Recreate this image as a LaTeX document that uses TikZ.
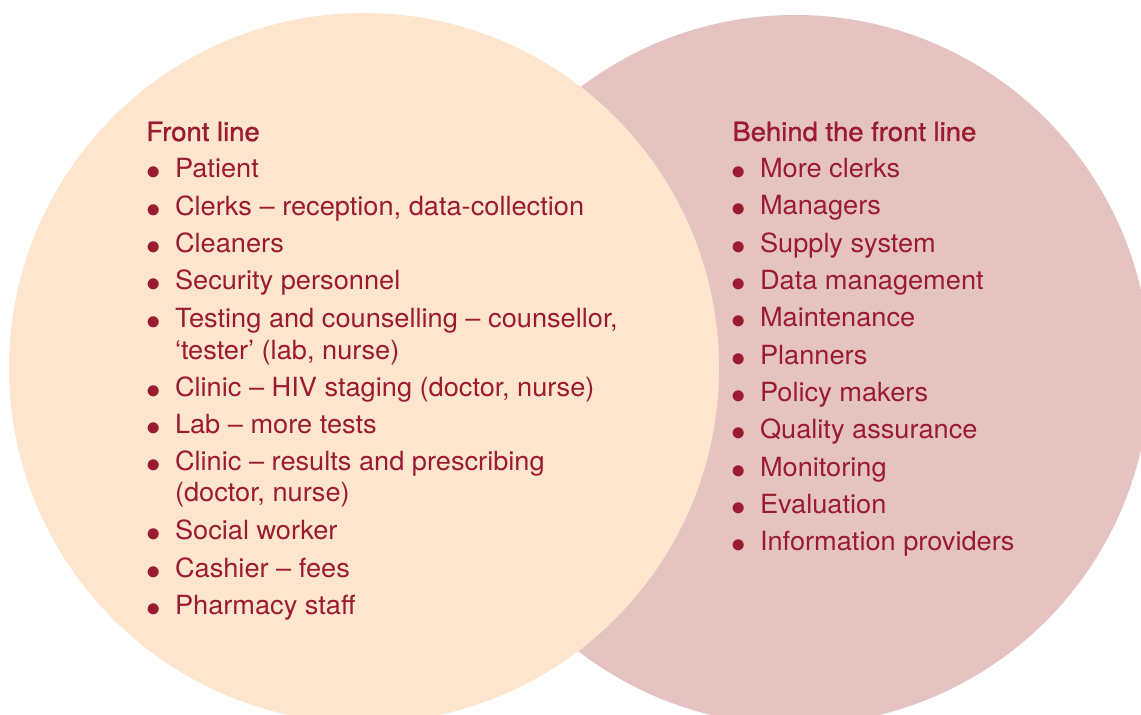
\documentclass[tikz,border=0pt]{standalone}
\usepackage{fontspec}
\setmainfont[FakeStretch=1.03]{TeX Gyre Heros}
\newfontfamily\headfont[FakeBold=1.2,FakeStretch=1.04]{TeX Gyre Heros}
\usepackage{tikz}
\definecolor{peach}{RGB}{254,229,206}
\definecolor{rose}{RGB}{229,195,192}
\definecolor{deepred}{RGB}{155,27,48}
\tikzstyle{ring}=[circle,inner sep=0pt,minimum size=355pt]
\tikzstyle{head}=[anchor=base west,inner sep=0pt,text=deepred,
font=\headfont\fontsize{13.2}{15.75}\selectfont]
\tikzstyle{entry}=[anchor=base west,inner sep=0pt,text=deepred,
font=\fontsize{13.2}{15.75}\selectfont]
\newcommand{\itembul}{\makebox[14.3pt][l]{\raisebox{-0.7pt}{\scalebox{1.2}{$\bullet$}}}}

\begin{document}
\begin{tikzpicture}[x=0.5pt,y=-0.5pt]
        \useasboundingbox (0,0) rectangle (1141,715);
        \node [style=ring,fill=rose] (behind) at (795,370) {};
        \node [style=ring,fill=peach] (front) at (364,368) {};
        % front line list
        \node [style=head] (fl) at (146,141) {Front line};
        \node [style=entry] (fl1) at (146,178) {\itembul Patient};
        \node [style=entry] (fl2) at (146,216) {\itembul Clerks – reception, data-collection};
        \node [style=entry] (fl3) at (146,253) {\itembul Cleaners};
        \node [style=entry] (fl4) at (146,290) {\itembul Security personnel};
        \node [style=entry] (fl5) at (146,328) {\itembul Testing and counselling – counsellor,};
        \node [style=entry] (fl5b) at (174.6,360) {‘tester’ (lab, nurse)};
        \node [style=entry] (fl6) at (146,397) {\itembul Clinic – HIV staging (doctor, nurse)};
        \node [style=entry] (fl7) at (146,434) {\itembul Lab – more tests};
        \node [style=entry] (fl8) at (146,471) {\itembul Clinic – results and prescribing};
        \node [style=entry] (fl8b) at (174.6,502) {(doctor, nurse)};
        \node [style=entry] (fl9) at (146,540) {\itembul Social worker};
        \node [style=entry] (fl10) at (146,578) {\itembul Cashier – fees};
        \node [style=entry] (fl11) at (146,615) {\itembul Pharmacy staff};
        % behind the front line list
        \node [style=head] (bl) at (732,141) {Behind the front line};
        \node [style=entry] (bl1) at (731,178) {\itembul More clerks};
        \node [style=entry] (bl2) at (731,215) {\itembul Managers};
        \node [style=entry] (bl3) at (731,253) {\itembul Supply system};
        \node [style=entry] (bl4) at (731,290) {\itembul Data management};
        \node [style=entry] (bl5) at (731,327) {\itembul Maintenance};
        \node [style=entry] (bl6) at (731,365) {\itembul Planners};
        \node [style=entry] (bl7) at (731,402) {\itembul Policy makers};
        \node [style=entry] (bl8) at (731,439) {\itembul Quality assurance};
        \node [style=entry] (bl9) at (731,477) {\itembul Monitoring};
        \node [style=entry] (bl10) at (731,514) {\itembul Evaluation};
        \node [style=entry] (bl11) at (731,551) {\itembul Information providers};
    \end{tikzpicture}
\end{document}
